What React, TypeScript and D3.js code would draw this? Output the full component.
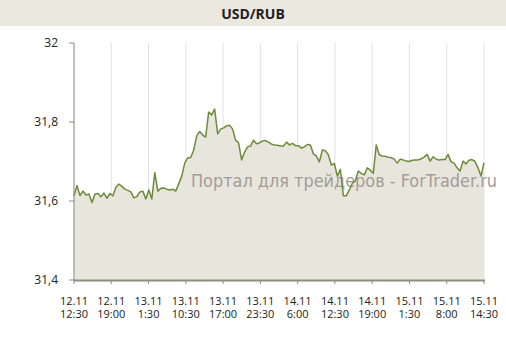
import React from "react";
import * as d3 from "d3";

const title = "USD/RUB";
const watermark = "Портал для трейдеров - ForTrader.ru";
const yTicks = [31.4, 31.6, 31.8, 32];
const xDates = ["12.11", "12.11", "13.11", "13.11", "13.11", "13.11", "14.11", "14.11", "14.11", "15.11", "15.11", "15.11"];
const xTimes = ["12:30", "19:00", "1:30", "10:30", "17:00", "23:30", "6:00", "12:30", "19:00", "1:30", "8:00", "14:30"];
const rates = [
  31.613, 31.639, 31.614, 31.625, 31.615, 31.618, 31.596, 31.618, 31.619, 31.611,
  31.620, 31.607, 31.619, 31.613, 31.635, 31.643, 31.637, 31.630, 31.627, 31.623,
  31.608, 31.611, 31.623, 31.625, 31.605, 31.628, 31.605, 31.672, 31.625, 31.632,
  31.633, 31.630, 31.628, 31.630, 31.625, 31.644, 31.663, 31.696, 31.709, 31.710,
  31.729, 31.765, 31.776, 31.767, 31.762, 31.825, 31.818, 31.833, 31.770, 31.782,
  31.785, 31.790, 31.792, 31.782, 31.754, 31.747, 31.704, 31.724, 31.737, 31.739,
  31.754, 31.745, 31.747, 31.752, 31.753, 31.749, 31.744, 31.742, 31.741, 31.739,
  31.739, 31.749, 31.742, 31.746, 31.740, 31.740, 31.734, 31.737, 31.743, 31.742,
  31.719, 31.714, 31.699, 31.729, 31.727, 31.717, 31.691, 31.695, 31.663, 31.680,
  31.613, 31.613, 31.628, 31.645, 31.651, 31.676, 31.670, 31.666, 31.684, 31.678,
  31.670, 31.742, 31.717, 31.714, 31.713, 31.711, 31.710, 31.706, 31.696, 31.706,
  31.704, 31.701, 31.700, 31.703, 31.704, 31.704, 31.707, 31.711, 31.718, 31.701,
  31.712, 31.706, 31.704, 31.705, 31.705, 31.718, 31.699, 31.696, 31.684, 31.676,
  31.701, 31.694, 31.703, 31.705, 31.700, 31.684, 31.663, 31.697,
];

const W = 506;
const H = 337;
const left = 74;
const right = 484;
const top = 43;
const bottom = 280;
const font = "'Open Sans', 'DejaVu Sans', sans-serif";

export default function App() {
  const x = d3.scaleLinear().domain([0, rates.length - 1]).range([left, right]);
  const y = d3.scaleLinear().domain([31.4, 32]).range([bottom, top]);
  const xCat = d3.scalePoint<number>().domain(xDates.map((_, i) => i)).range([left, right]);

  const line = d3.line<number>().x((_, i) => x(i)).y((d) => y(d));
  const area = d3.area<number>().x((_, i) => x(i)).y0(y(31.4)).y1((d) => y(d));
  const fmt = (v: number) => d3.format("")(v).replace(".", ",");

  return (
    <div style={{ position: "absolute", left: 0, top: 0 }}>
      <svg width={W} height={H} style={{ display: "block", background: "#fff" }}>
        <rect x={0} y={0} width={W} height={26} fill="#ebe8e0" />
        <text x={253} y={19} textAnchor="middle" fontFamily={font} fontWeight="bold" fontSize={14} fill="#222">
          {title}
        </text>
        {xDates.map((_, i) => (
          <line key={"g" + i} x1={xCat(i)} x2={xCat(i)} y1={top} y2={bottom} stroke="#e2e2e2" strokeWidth={1} />
        ))}
        <path d={area(rates) || ""} fill="#e8e5dc" />
        <text
          x={191}
          y={187}
          fontFamily="'DejaVu Sans', sans-serif"
          fontSize={17}
          fill="#a39d97"
          textLength={306}
          lengthAdjust="spacingAndGlyphs"
        >
          {watermark}
        </text>
        <path d={line(rates) || ""} fill="none" stroke="#6e8a3c" strokeWidth={1.5} strokeLinejoin="round" />
        <line x1={left} x2={left} y1={top} y2={bottom} stroke="#8c8c84" strokeWidth={1} />
        {yTicks.map((t) => (
          <g key={"y" + t}>
            <line x1={left - 5} x2={left} y1={y(t)} y2={y(t)} stroke="#8c8c84" />
            <text x={58} y={y(t) + 4} textAnchor="end" fontFamily={font} fontSize={12} fill="#222">
              {fmt(t)}
            </text>
          </g>
        ))}
        <line x1={left} x2={right + 1} y1={bottom + 0.5} y2={bottom + 0.5} stroke="#8f8f7a" strokeWidth={2} />
        {xDates.map((d, i) => (
          <g key={"x" + i}>
            <line x1={xCat(i)} x2={xCat(i)} y1={bottom} y2={bottom + 4} stroke="#8c8c84" />
            <text textAnchor="middle" fontFamily={font} fontSize={11} fill="#222">
              <tspan x={xCat(i)} y={305}>{d}</tspan>
              <tspan x={xCat(i)} y={318}>{xTimes[i]}</tspan>
            </text>
          </g>
        ))}
      </svg>
    </div>
  );
}
